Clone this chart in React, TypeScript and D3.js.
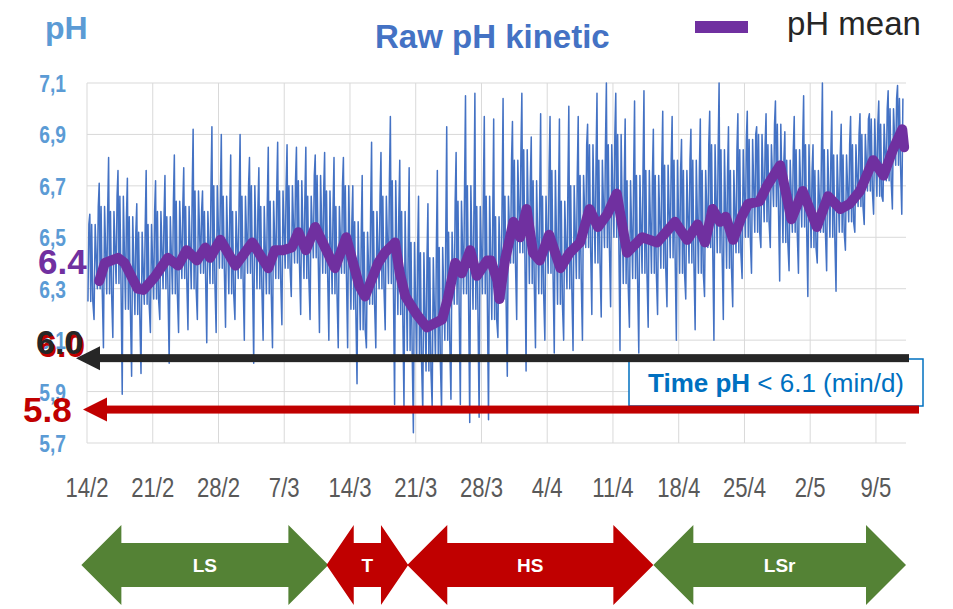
import React, { useMemo } from "react";
import * as d3 from "d3";

const W = 953;
const H = 609;
const margin = { top: 83, right: 47, bottom: 166, left: 87 };

// x axis is in days since 14/2, one tick per week
const dateLabels = ["14/2", "21/2", "28/2", "7/3", "14/3", "21/3", "28/3", "4/4", "11/4", "18/4", "25/4", "2/5", "9/5"];
const yTicks = [5.7, 5.9, 6.1, 6.3, 6.5, 6.7, 6.9, 7.1];

// raw pH: daily spike, dip and the secondary swings, one value per day (day 0 = 14/2)
const rawPeak = [
  6.59, 6.71, 6.81, 6.76, 6.73, 6.63, 6.76, 6.72, 6.74, 6.82, 6.77, 6.92, 6.68, 6.93, 6.9,
  6.82, 6.9, 6.81, 6.77, 6.85, 6.87, 6.86, 6.85, 6.85, 6.82, 6.83, 6.81, 6.81, 6.7,
  6.74, 6.87, 6.83, 6.97, 6.8, 6.77, 6.66, 6.63, 6.76, 6.93, 6.83, 7.05, 7.06, 6.97,
  6.96, 7.04, 6.95, 7.06, 6.89, 6.98, 6.97, 6.96, 7.01, 6.97, 6.94, 7.06, 7.1, 7.06, 6.96,
  7.03, 7.07, 6.92, 6.99, 6.97, 6.88, 6.92, 6.96, 6.99, 7.1, 6.93, 6.98, 6.99, 6.93,
  6.98, 7.03, 6.91, 6.97, 7.05, 6.86, 7.1, 6.99, 6.94, 6.97, 6.98, 6.98, 7.03, 7.07, 7.09,
];
const rawTrough = [
  6.18, 6.07, 6.11, 5.89, 5.96, 5.97, 6.13, 6.18, 6.01, 6.13, 6.14, 6.18, 6.09, 6.13, 6.15,
  6.18, 6.1, 6.01, 6.1, 6.07, 6.16, 6.27, 6.2, 6.18, 6.13, 6.1, 6.07, 6.07, 5.93,
  6.07, 6.07, 6.14, 5.85, 5.84, 5.74, 5.82, 5.84, 5.83, 5.87, 5.85, 5.78, 5.8, 5.79,
  6.11, 5.96, 6.18, 5.98, 6.07, 6.1, 6.05, 6.1, 6.06, 6.1, 6.2, 6.19, 6.23, 6.06, 6.15,
  6.05, 6.15, 6.2, 6.23, 6.1, 6.26, 6.14, 6.27, 6.1, 6.18, 6.23, 6.34, 6.36, 6.46,
  6.46, 6.33, 6.37, 6.36, 6.27, 6.4, 6.37, 6.29, 6.45, 6.52, 6.55, 6.59, 6.64, 6.61, 6.59,
];
const rawSecHigh = [
  6.55, 6.62, 6.6, 6.66, 6.58, 6.52, 6.55, 6.6, 6.58, 6.64, 6.62, 6.68, 6.6, 6.7, 6.66,
  6.6, 6.66, 6.7, 6.62, 6.64, 6.68, 6.7, 6.72, 6.66, 6.74, 6.68, 6.62, 6.7, 6.56,
  6.52, 6.6, 6.66, 6.72, 6.6, 6.48, 6.44, 6.42, 6.46, 6.52, 6.64, 6.7, 6.62, 6.66,
  6.58, 6.66, 6.8, 6.84, 6.72, 6.66, 6.76, 6.64, 6.7, 6.74, 6.86, 6.8, 6.86, 6.9, 6.72,
  6.74, 6.76, 6.74, 6.78, 6.8, 6.76, 6.8, 6.76, 6.86, 6.84, 6.76, 6.84, 6.88, 6.9,
  6.86, 6.94, 6.8, 6.84, 6.86, 6.76, 6.84, 6.82, 6.82, 6.86, 6.9, 6.96, 6.94, 7.0, 7.04,
];
const rawSecLow = [
  6.25, 6.3, 6.28, 6.32, 6.22, 6.2, 6.24, 6.26, 6.3, 6.28, 6.34, 6.3, 6.36, 6.32, 6.38,
  6.28, 6.34, 6.36, 6.3, 6.28, 6.34, 6.38, 6.4, 6.34, 6.42, 6.36, 6.28, 6.36, 6.22,
  6.14, 6.24, 6.3, 6.32, 6.2, 6.06, 6.02, 5.98, 6.02, 6.1, 6.24, 6.28, 6.22, 6.28,
  6.18, 6.26, 6.4, 6.44, 6.32, 6.28, 6.36, 6.24, 6.3, 6.34, 6.46, 6.4, 6.46, 6.5, 6.32,
  6.34, 6.36, 6.36, 6.38, 6.42, 6.36, 6.4, 6.36, 6.46, 6.44, 6.38, 6.44, 6.5, 6.52,
  6.56, 6.62, 6.48, 6.52, 6.54, 6.46, 6.52, 6.5, 6.52, 6.56, 6.62, 6.68, 6.66, 6.72, 6.78,
];

// pH mean (moving average), day / value pairs
const meanDay = [
  1.3, 1.9, 3.3, 4.0, 5.4, 6.0, 7.2, 8.6, 9.7, 10.6, 11.7, 12.6, 13.1, 14.2, 15.8, 17.6, 19.3, 20.0,
  20.9, 21.8, 22.5, 23.3, 24.3, 26.4, 27.6, 29.0, 29.6, 31.0, 31.7, 32.8, 33.3, 33.9, 35.1, 36.2,
  37.8, 38.4, 39.2, 39.9, 40.8, 41.5, 42.6, 43.0, 43.7, 43.9, 44.5, 45.4, 46.1, 46.8, 47.5, 48.2,
  49.2, 50.4, 51.4, 52.5, 53.5, 54.4, 55.4, 56.4, 57.5, 59.1, 60.7, 62.6, 63.9, 65.0, 65.8, 66.6,
  67.4, 68.0, 68.8, 69.7, 70.4, 71.6, 72.4, 73.8, 75.0, 76.2, 77.7, 78.9, 80.2, 81.2, 82.3, 83.7,
  84.8, 85.8, 86.8, 87.0,
];
const meanPH = [
  6.33, 6.4, 6.42, 6.4, 6.3, 6.295, 6.345, 6.42, 6.39, 6.45, 6.41, 6.46, 6.42, 6.49, 6.39, 6.48, 6.38, 6.45,
  6.45, 6.46, 6.52, 6.45, 6.54, 6.38, 6.5, 6.31, 6.27, 6.4, 6.44, 6.48, 6.36, 6.27, 6.2, 6.15,
  6.18, 6.26, 6.4, 6.36, 6.45, 6.35, 6.41, 6.41, 6.33, 6.26, 6.41, 6.56, 6.5, 6.61, 6.44, 6.41,
  6.51, 6.38, 6.44, 6.48, 6.61, 6.54, 6.59, 6.67, 6.44, 6.5, 6.48, 6.56, 6.49, 6.55, 6.48, 6.61,
  6.56, 6.58, 6.49, 6.58, 6.63, 6.64, 6.7, 6.78, 6.57, 6.68, 6.54, 6.66, 6.61, 6.63, 6.68, 6.8,
  6.74, 6.84, 6.92, 6.85,
];

// feeding phases (start / end day)
const phaseNames = ["LS", "T", "HS", "LSr"];
const phaseStart = [-0.6, 25.5, 34.1, 60.3];
const phaseEnd = [25.7, 34.2, 60.3, 87.2];
const phaseColors = ["#548235", "#c00000", "#c00000", "#548235"];

// threshold annotations
const thresholdLabels = ["6.0", "5.8"];
const thresholdLevels = [6.03, 5.83];
const thresholdColors = ["#262626", "#c00000"];

export default function App() {
  const x = useMemo(() => d3.scaleLinear().domain([0, 87.2]).range([margin.left, W - margin.right]), []);
  const y = useMemo(() => d3.scaleLinear().domain([5.7, 7.1]).range([H - margin.bottom, margin.top]), []);

  // sample order within a day
  const rawPts: [number, number][] = [];
  rawPeak.forEach((p, d) => {
    rawPts.push([d + 0.1, rawSecLow[d]]);
    rawPts.push([d + 0.2, rawSecHigh[d]]);
    rawPts.push([d + 0.3, p]);
    rawPts.push([d + 0.4, rawSecLow[d]]);
    rawPts.push([d + 0.5, rawSecHigh[d]]);
    rawPts.push([d + 0.62, rawSecLow[d]]);
    rawPts.push([d + 0.75, rawTrough[d]]);
    rawPts.push([d + 0.87, rawSecHigh[d]]);
  });
  const line = d3.line<[number, number]>().x((d) => x(d[0])).y((d) => y(d[1]));
  const meanPts: [number, number][] = meanDay.map((d, i) => [d, meanPH[i]]);

  const x0 = margin.left;
  const x1 = W - margin.right;
  const y0 = margin.top;
  const y1 = H - margin.bottom;

  const arrowY = 565;
  const phasePoly = (a: number, b: number) => {
    const h = Math.min(40, (b - a) / 3);
    const s = 22;
    const t = 40;
    return [
      [a, arrowY], [a + h, arrowY - t], [a + h, arrowY - s], [b - h, arrowY - s], [b - h, arrowY - t],
      [b, arrowY], [b - h, arrowY + t], [b - h, arrowY + s], [a + h, arrowY + s], [a + h, arrowY + t],
    ].map((p) => p.join(",")).join(" ");
  };

  const tipX = [76, 83];
  const endX = [909, 919];

  return (
    <svg width={W} height={H} style={{ position: "absolute", left: 0, top: 0, background: "#fff" }}
      fontFamily="Liberation Sans, Arial, sans-serif">
      <defs>
        <clipPath id="plot">
          <rect x={x0} y={y0 - 2} width={x1 - x0} height={y1 - y0 + 4} />
        </clipPath>
      </defs>

      {/* grid */}
      {yTicks.map((t) => (
        <line key={t} x1={x0} x2={x1} y1={y(t)} y2={y(t)} stroke="#d9d9d9" strokeWidth={1} />
      ))}
      {dateLabels.map((l, i) => (
        <line key={l} x1={x(i * 7)} x2={x(i * 7)} y1={y0} y2={y1} stroke="#d9d9d9" strokeWidth={1} />
      ))}

      {/* y tick labels */}
      {yTicks.map((t) => (
        <text key={t} transform={`translate(66,${y(t) + 9}) scale(0.8,1)`} textAnchor="end"
          fontSize={24} fontWeight="bold" fill="#5b9bd5">
          {d3.format(".1f")(t).replace(".", ",")}
        </text>
      ))}

      {/* x tick labels */}
      {dateLabels.map((l, i) => (
        <text key={l} transform={`translate(${x(i * 7)},497) scale(0.82,1)`} textAnchor="middle"
          fontSize={27} fill="#595959">
          {l}
        </text>
      ))}

      {/* raw series */}
      <g clipPath="url(#plot)">
        <path d={line(rawPts) ?? ""} fill="none" stroke="#4472c4" strokeWidth={1.5} strokeLinejoin="round" />
      </g>

      {/* mean */}
      <path d={line(meanPts) ?? ""} fill="none" stroke="#7030a0" strokeWidth={10}
        strokeLinejoin="round" strokeLinecap="round" />

      {/* box */}
      <rect x={629} y={359} width={294} height={47} fill="#fff" stroke="#0070c0" strokeWidth={1.5} />
      <text x={648} y={392} fontSize={26} fill="#0070c0">
        <tspan fontWeight="bold">Time pH</tspan>
        <tspan> &lt; 6.1 (min/d)</tspan>
      </text>

      {/* threshold arrows */}
      {thresholdLevels.map((lv, i) => {
        const yy = y(lv);
        return (
          <g key={i}>
            <rect x={tipX[i] + 22} y={yy - 4} width={endX[i] - tipX[i] - 22} height={8} fill={thresholdColors[i]} />
            <polygon points={`${tipX[i]},${yy} ${tipX[i] + 24},${yy - 12} ${tipX[i] + 24},${yy + 12}`}
              fill={thresholdColors[i]} />
          </g>
        );
      })}

      {/* big labels */}
      <text x={38} y={y(6.4) + 11} fontSize={35} fontWeight="bold" fill="#7030a0">6.4</text>
      <text x={38} y={y(thresholdLevels[0]) - 1} fontSize={34} fontWeight="bold" fill="#c00000">
        {thresholdLabels[0]}
      </text>
      <text x={36} y={y(thresholdLevels[0]) - 4} fontSize={34} fontWeight="bold" fill={thresholdColors[0]}>
        {thresholdLabels[0]}
      </text>
      <text x={23} y={y(thresholdLevels[1]) + 12} fontSize={35} fontWeight="bold" fill={thresholdColors[1]}>
        {thresholdLabels[1]}
      </text>

      {/* titles */}
      <text x={45} y={39} fontSize={32} fontWeight="bold" fill="#5b9bd5">pH</text>
      <text x={375} y={48} fontSize={33} fontWeight="bold" fill="#4472c4">Raw pH kinetic</text>
      <rect x={695} y={21} width={53} height={12} fill="#7030a0" />
      <text x={787} y={35} fontSize={33} fill="#262626">pH mean</text>

      {/* phases */}
      {phaseNames.map((n, i) => {
        const a = x(phaseStart[i]);
        const b = x(phaseEnd[i]);
        return (
          <g key={n}>
            <polygon points={phasePoly(a, b)} fill={phaseColors[i]} />
            <text x={(a + b) / 2} y={arrowY + 7} textAnchor="middle" fontSize={19} fontWeight="bold" fill="#fff">
              {n}
            </text>
          </g>
        );
      })}
    </svg>
  );
}
